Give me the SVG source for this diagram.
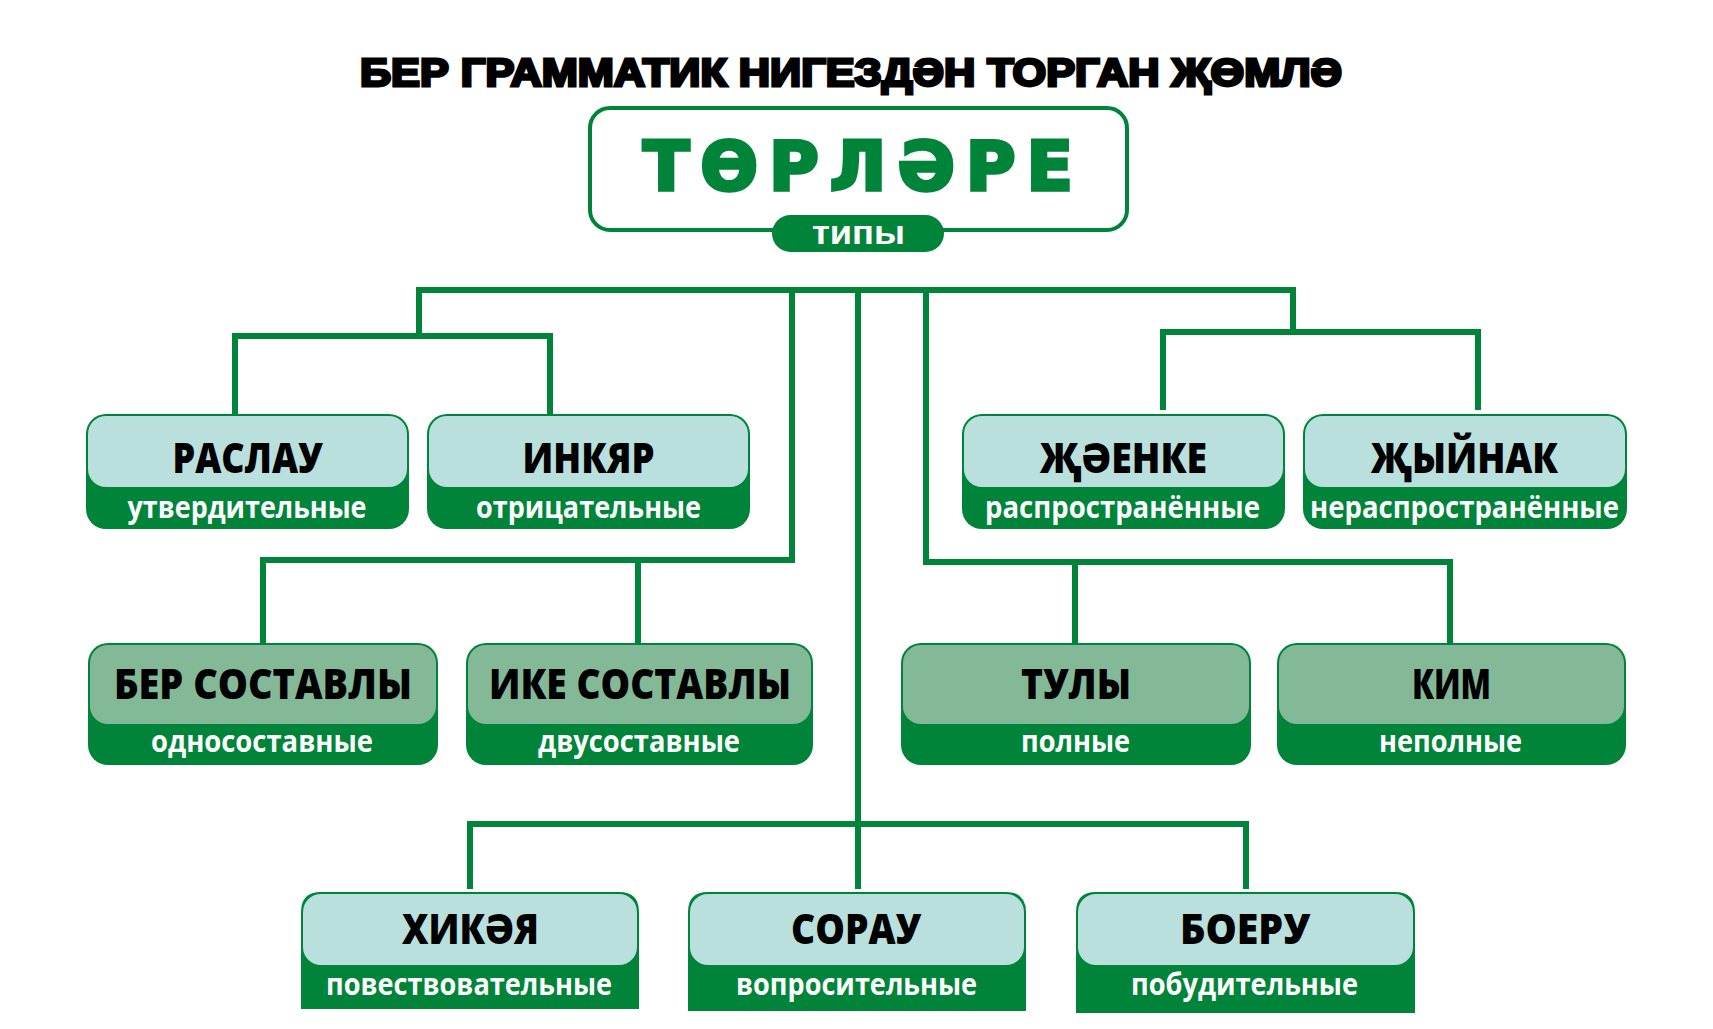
<svg xmlns="http://www.w3.org/2000/svg" width="1713" height="1029" viewBox="0 0 1713 1029">
<style>
.bg{fill:#ffffff}
.con{fill:none;stroke:#00843a;stroke-width:6;stroke-linejoin:miter;stroke-linecap:butt}
.dark{fill:#00843a}
.lt{fill:#b9e0dc}
.md{fill:#84b998}
.lbl{font-family:"Open Sans","Noto Sans","DejaVu Sans",sans-serif;font-weight:800;font-size:42px;fill:#000;text-anchor:middle}
.sub{font-family:"Open Sans","Noto Sans","DejaVu Sans",sans-serif;font-weight:700;font-size:31px;fill:#fff;text-anchor:middle}
.title{font-family:"Liberation Sans","Arial",sans-serif;font-weight:700;font-size:38px;fill:#000;stroke:#000;stroke-width:2.8;text-anchor:middle}
.big{font-family:"DejaVu Sans","Liberation Sans",sans-serif;font-weight:700;font-size:68px;fill:#00843a;stroke:#00843a;stroke-width:3.5;text-anchor:middle}
.pilltxt{font-family:"Liberation Sans","Arial",sans-serif;font-weight:700;font-size:33px;fill:#fff;text-anchor:middle}
</style>
<rect class="bg" x="0" y="0" width="1713" height="1029"/>

<g id="connectors">
  <path class="con" d="M419,336 V290 H1293 V332"/>
  <path class="con" d="M235,414 V336 H550 V414"/>
  <path class="con" d="M1163,410 V332 H1478 V410"/>
  <path class="con" d="M263,643 V560 H792 V290"/>
  <path class="con" d="M638,560 V643"/>
  <path class="con" d="M926,290 V562 H1450 V643"/>
  <path class="con" d="M1075,562 V643"/>
  <path class="con" d="M858,290 V889"/>
  <path class="con" d="M470,889 V824 H1246 V889"/>
</g>

<g id="title">
  <text class="title" x="851" y="86" textLength="982" lengthAdjust="spacingAndGlyphs">БЕР ГРАММАТИК НИГЕЗДӘН ТОРГАН ҖӨМЛӘ</text>
</g>

<g id="root">
  <rect x="590" y="108" width="537" height="122" rx="20" fill="#fff" stroke="#00843a" stroke-width="4"/>
  <text class="big" x="858" y="190" textLength="430" lengthAdjust="spacing">ТӨРЛӘРЕ</text>
  <rect class="dark" x="772" y="215" width="172" height="37" rx="18.5"/>
  <text class="pilltxt" x="858.5" y="244" textLength="93" lengthAdjust="spacingAndGlyphs">типы</text>
</g>

<g id="raslau">
  <rect class="dark" x="86" y="414" width="323" height="115" rx="20"/>
  <rect class="lt" x="88" y="416" width="319" height="71" rx="18"/>
  <text class="lbl" x="247.5" y="473" textLength="150" lengthAdjust="spacingAndGlyphs">РАСЛАУ</text>
  <text class="sub" x="247" y="518" textLength="239" lengthAdjust="spacingAndGlyphs">утвердительные</text>
</g>
<g id="inkyar">
  <rect class="dark" x="427" y="414" width="323" height="115" rx="20"/>
  <rect class="lt" x="429" y="416" width="319" height="71" rx="18"/>
  <text class="lbl" x="588.5" y="473" textLength="132" lengthAdjust="spacingAndGlyphs">ИНКЯР</text>
  <text class="sub" x="588.5" y="518" textLength="225" lengthAdjust="spacingAndGlyphs">отрицательные</text>
</g>
<g id="jaenke">
  <rect class="dark" x="962" y="414" width="323" height="115" rx="20"/>
  <rect class="lt" x="964" y="416" width="319" height="71" rx="18"/>
  <text class="lbl" x="1123.5" y="473" textLength="167" lengthAdjust="spacingAndGlyphs">ҖӘЕНКЕ</text>
  <text class="sub" x="1122.5" y="518" textLength="275" lengthAdjust="spacingAndGlyphs">распространённые</text>
</g>
<g id="jyynak">
  <rect class="dark" x="1303" y="414" width="324" height="115" rx="20"/>
  <rect class="lt" x="1305" y="416" width="320" height="71" rx="18"/>
  <text class="lbl" x="1464.5" y="473" textLength="187" lengthAdjust="spacingAndGlyphs">ҖЫЙНАК</text>
  <text class="sub" x="1464.5" y="518" textLength="309" lengthAdjust="spacingAndGlyphs">нераспространённые</text>
</g>

<g id="ber-sostavly">
  <rect class="dark" x="88" y="643" width="350" height="122" rx="20"/>
  <rect class="md" x="90" y="645" width="346" height="79" rx="18"/>
  <text class="lbl" x="263" y="699" textLength="298" lengthAdjust="spacingAndGlyphs">БЕР СОСТАВЛЫ</text>
  <text class="sub" x="262" y="752" textLength="222" lengthAdjust="spacingAndGlyphs">односоставные</text>
</g>
<g id="ike-sostavly">
  <rect class="dark" x="466" y="643" width="347" height="122" rx="20"/>
  <rect class="md" x="468" y="645" width="343" height="79" rx="18"/>
  <text class="lbl" x="640" y="699" textLength="302" lengthAdjust="spacingAndGlyphs">ИКЕ СОСТАВЛЫ</text>
  <text class="sub" x="639" y="752" textLength="202" lengthAdjust="spacingAndGlyphs">двусоставные</text>
</g>
<g id="tuly">
  <rect class="dark" x="901" y="643" width="350" height="122" rx="20"/>
  <rect class="md" x="903" y="645" width="346" height="79" rx="18"/>
  <text class="lbl" x="1076" y="699" textLength="110" lengthAdjust="spacingAndGlyphs">ТУЛЫ</text>
  <text class="sub" x="1075.5" y="752" textLength="109" lengthAdjust="spacingAndGlyphs">полные</text>
</g>
<g id="kim">
  <rect class="dark" x="1277" y="643" width="349" height="122" rx="20"/>
  <rect class="md" x="1279" y="645" width="345" height="79" rx="18"/>
  <text class="lbl" x="1451.5" y="699" textLength="79" lengthAdjust="spacingAndGlyphs">КИМ</text>
  <text class="sub" x="1450.5" y="752" textLength="143" lengthAdjust="spacingAndGlyphs">неполные</text>
</g>

<g id="hikaya">
  <path class="dark" d="M301,1009 V912 Q301,892 321,892 H619 Q639,892 639,912 V1009 Z"/>
  <rect class="lt" x="303" y="894" width="334" height="71" rx="18"/>
  <text class="lbl" x="470.5" y="944" textLength="137" lengthAdjust="spacingAndGlyphs">ХИКӘЯ</text>
  <text class="sub" x="469" y="995" textLength="286" lengthAdjust="spacingAndGlyphs">повествовательные</text>
</g>
<g id="sorau">
  <path class="dark" d="M688,1011 V912 Q688,892 708,892 H1006 Q1026,892 1026,912 V1011 Z"/>
  <rect class="lt" x="690" y="894" width="334" height="71" rx="18"/>
  <text class="lbl" x="856" y="944" textLength="130" lengthAdjust="spacingAndGlyphs">СОРАУ</text>
  <text class="sub" x="856.5" y="995" textLength="241" lengthAdjust="spacingAndGlyphs">вопросительные</text>
</g>
<g id="boeru">
  <path class="dark" d="M1076,1013 V912 Q1076,892 1096,892 H1395 Q1415,892 1415,912 V1013 Z"/>
  <rect class="lt" x="1078" y="894" width="335" height="71" rx="18"/>
  <text class="lbl" x="1245" y="944" textLength="130" lengthAdjust="spacingAndGlyphs">БОЕРУ</text>
  <text class="sub" x="1244.5" y="995" textLength="227" lengthAdjust="spacingAndGlyphs">побудительные</text>
</g>
</svg>
